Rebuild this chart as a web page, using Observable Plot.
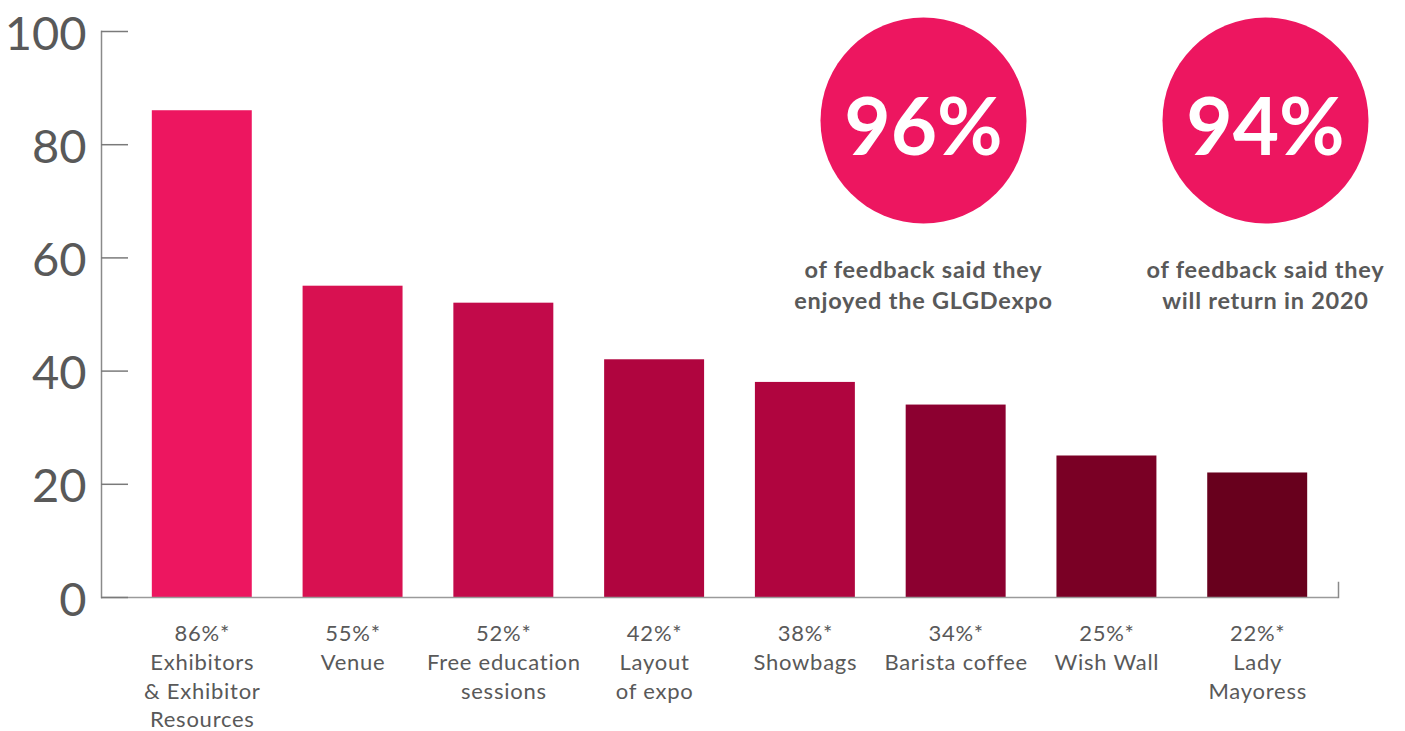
<!DOCTYPE html>
<html>
<head>
<meta charset="utf-8">
<script src="https://cdn.jsdelivr.net/npm/d3@7"></script>
<script src="https://cdn.jsdelivr.net/npm/@observablehq/plot@0.6"></script>
<style>
  html, body { margin: 0; padding: 0; background: #fff; }
  #chart svg { display: block; }
  #chart g[aria-label="x-axis tick label"] text { letter-spacing: 0.75px; }
  #chart g[font-size="23.5"] text { letter-spacing: 0.75px; }
</style>
</head>
<body>
<div id="chart"></div>
<script>
// ---- data ----
const categories = [
  "Exhibitors\n& Exhibitor\nResources",
  "Venue",
  "Free education\nsessions",
  "Layout\nof expo",
  "Showbags",
  "Barista coffee",
  "Wish Wall",
  "Lady\nMayoress"
];
const values = [86, 55, 52, 42, 38, 34, 25, 22];
const barColors = ["#ED1660", "#D81151", "#C20A4A", "#B0053F", "#B0053F", "#8C0030", "#7A0025", "#68001D"];
const yTicks = [0, 20, 40, 60, 80, 100];
const calloutValues = ["96%", "94%"];
const calloutTexts = ["of feedback said they\nenjoyed the GLGDexpo", "of feedback said they\nwill return in 2020"];

// ---- layout ----
const W = 1405, H = 731;
const mL = 101, mR = 67, mT = 31, mB = 134;
const textColor = "#595959";
const axisColor = "#8a8a8a";
const pink = "#ED1660";
const calloutCx = [822, 1164];   // offsets from frame left
const circleDy = 89, numberDy = 98, captionDy = 224.5;

const data = categories.map((c, i) => ({category: c, value: values[i]}));
const valueOf = new Map(data.map(d => [d.category, d.value]));
const callouts = calloutValues.map((v, i) => ({value: v, text: calloutTexts[i]}));

const calloutMarks = callouts.flatMap((c, i) => [
  Plot.dot([c], {frameAnchor: "top-left", dx: calloutCx[i], dy: circleDy, r: 103, fill: pink, stroke: null}),
  Plot.text([c], {frameAnchor: "top-left", dx: calloutCx[i], dy: numberDy, text: "value",
    fill: "white", fontSize: 80, fontWeight: 700, textAnchor: "middle", lineAnchor: "middle"}),
  Plot.text([c], {frameAnchor: "top-left", dx: calloutCx[i], dy: captionDy, text: "text",
    fill: textColor, fontSize: 23.5, fontWeight: 700, textAnchor: "middle", lineAnchor: "top", lineHeight: 1.32})
]);

const chart = Plot.plot({
  width: W,
  height: H,
  marginLeft: mL,
  marginRight: mR,
  marginTop: mT,
  marginBottom: mB,
  style: {fontFamily: "Lato, 'Open Sans', sans-serif", background: "white", overflow: "visible"},
  x: {type: "band", domain: categories, range: [101, 1358], padding: 0.337, round: false, label: null},
  y: {domain: [0, 100], label: null},
  color: {domain: categories, range: barColors},
  marks: [
    Plot.barY(data, {x: "category", y: "value", fill: "category"}),
    Plot.ruleY([0], {stroke: "#9a9a9a", strokeWidth: 1.5}),
    Plot.frame({anchor: "left", stroke: axisColor, strokeWidth: 1.5}),
    Plot.frame({anchor: "right", stroke: axisColor, strokeWidth: 1.5, insetTop: 551}),
    Plot.ruleY(yTicks, {stroke: "#7a7a7a", strokeWidth: 1.5, insetRight: (W - mR - mL) - 27}),
    Plot.axisY({ticks: yTicks, tickSize: 0, tickPadding: 15, fontSize: 47, fill: textColor, dy: 3, label: null}),
    Plot.axisX({tickSize: 0, tickPadding: 23, fontSize: 22, lineHeight: 1.31, fill: textColor, label: null,
      tickFormat: d => `${valueOf.get(d)}%*\n${d}`}),
    ...calloutMarks
  ]
});
document.getElementById("chart").appendChild(chart);
</script>
</body>
</html>
